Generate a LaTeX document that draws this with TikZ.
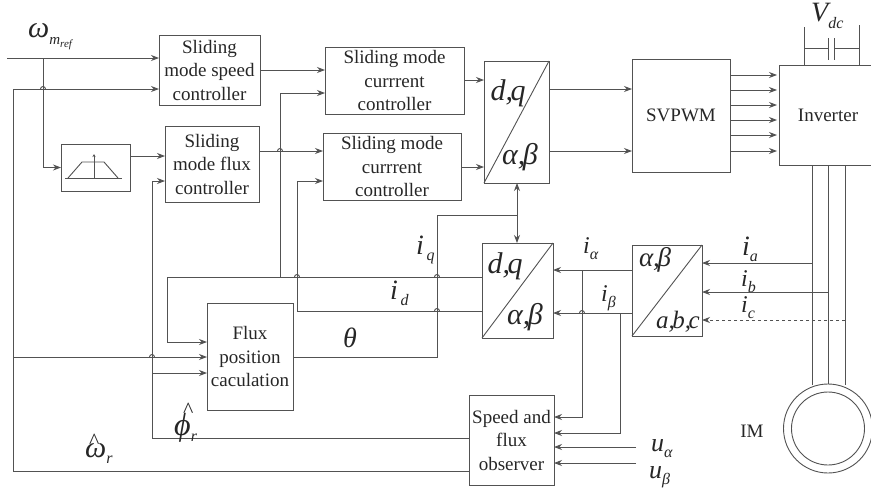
\documentclass[tikz,border=0pt]{standalone}
\usepackage{fontspec}
\setmainfont{Liberation Serif}
\usepackage{xcolor}
\usetikzlibrary{arrows.meta}
\definecolor{wirecol}{gray}{0.32}
\definecolor{inkcol}{gray}{0.15}
\newcommand{\sz}[1]{\fontsize{#1}{#1}\selectfont}
\newcommand{\lab}[3]{{\sz{#1}\itshape #2}\raisebox{-6pt}{\sz{16}\itshape #3}}
\newcommand{\tight}{\kern-2.5pt}
\newcommand{\hatted}[3]{\rlap{\kern#1pt\raisebox{#2pt}{\sz{22}\upshape\textasciicircum}}#3}

\begin{document}
\begin{tikzpicture}[
  x=1pt, y=-1pt,
  box/.style={rectangle, draw=wirecol, line width=0.9pt, outer sep=0pt, inner sep=0pt,
              align=center, text=inkcol,
              font=\fontsize{19}{23.5}\selectfont},
  sym/.style={inner sep=0pt, text=inkcol, font=\sz{30}\itshape},
  lbl/.style={anchor=base west, inner sep=0pt, text=inkcol},
  wire/.style={draw=wirecol, line width=0.9pt},
  arr/.style={wire, -{Stealth[length=8pt,width=6pt]}}]
  \useasboundingbox (0,0) rectangle (871,491);
  % blocks
  \node[box, minimum width=101pt, minimum height=70pt] (speed) at (209.5,70) {Sliding\\mode speed\\controller};
  \node[box, minimum width=94pt, minimum height=76pt] (fluxctrl) at (212,164) {Sliding\\mode flux\\controller};
  \node[box, minimum width=69pt, minimum height=47pt] (ramp) at (95.5,167.5) {};
  \node[box, minimum width=139pt, minimum height=67pt] (curone) at (394.5,80.5) {Sliding mode\\currrent\\controller};
  \node[box, minimum width=138pt, minimum height=67pt] (curtwo) at (392,166.5) {Sliding mode\\currrent\\controller};
  \node[box, minimum width=65pt, minimum height=122pt] (dqtop) at (516.5,122) {};
  \node[box, minimum width=98pt, minimum height=113pt] (svpwm) at (681,115.5) {SVPWM};
  \node[box, minimum width=98pt, minimum height=100pt] (inv) at (828,115) {Inverter};
  \node[box, minimum width=71pt, minimum height=95pt] (dqlow) at (517.5,290.5) {};
  \node[box, minimum width=70pt, minimum height=91pt] (abc) at (667,290.5) {};
  \node[box, minimum width=86pt, minimum height=107pt] (fluxpos) at (250,356.5) {Flux\\position\\caculation};
  \node[box, minimum width=85pt, minimum height=90pt] (obs) at (511.5,440) {Speed and\\flux\\observer};
  \node[box, circle, minimum size=89pt] (imout) at (828,428.5) {};
  \node[box, circle, minimum size=73pt] (imin) at (828,428.5) {};
  \node[inner sep=0pt, text=inkcol, font=\sz{19}] (im) at (752,431) {IM};
  % transform symbols
  \draw[wire] (dqtop.north east) -- (dqtop.south west);
  \draw[wire] (dqlow.north east) -- (dqlow.south west);
  \draw[wire] (abc.north east) -- (abc.south west);
  \node[sym] (dqtopa) at (508,93) {d,\tight q};
  \node[sym] (dqtopb) at (520,157) {α,\tight β};
  \node[sym] (dqlowa) at (505,266) {d,\tight q};
  \node[sym] (dqlowb) at (525,317) {α,\tight β};
  \node[sym, font=\sz{27}\itshape] (abca) at (655,260) {α,\tight β};
  \node[sym, font=\sz{25}\itshape] (abcb) at (678,322) {a,\tight b,\tight c};
  % ramp glyph
  \coordinate (rampl) at (65,178);
  \coordinate (rampr) at (122,178);
  \draw[wire] (rampl) -- (rampr);
  \draw[wire] (68,178) -- (82,162) -- (104,162) -- (118,178);
  \draw[wire, -{Stealth[length=3pt,width=3pt]}] (94,178) -- (94,154);
  % dc link
  \coordinate (dcl) at (804,48);
  \coordinate (dcr) at (859,48);
  \coordinate (capa) at (828,48);
  \coordinate (capb) at (834,48);
  \draw[wire] (dcl |- 0,27) -- (dcl |- inv.north);
  \draw[wire] (dcr |- 0,25) -- (dcr |- inv.north);
  \draw[wire] (dcl) -- (capa) (capb) -- (dcr);
  \draw[wire] (828,38) -- (828,60) (834,38) -- (834,60);
  % machine phases
  \coordinate (pha) at (812,165);
  \coordinate (phb) at (828,165);
  \coordinate (phc) at (845,165);
  \draw[wire] (pha) -- (pha |- 0,385);
  \draw[wire] (phb) -- (imout.north);
  \draw[wire] (phc) -- (phc |- 0,385);
  \coordinate (ia) at (812,263);
  \coordinate (ib) at (828,292);
  \coordinate (ic) at (845,320);
  \draw[arr] (ia) -- (ia -| abc.east);
  \draw[arr] (ib) -- (ib -| abc.east);
  \draw[arr, dashed] (ic) -- (ic -| abc.east);
  % reference path
  \coordinate (refin) at (7,58);
  \coordinate (refdrop) at (43,58);
  \draw[arr] (refin) -- (refin -| speed.west);
  \draw[arr] (refdrop) |- (ramp.west);
  \coordinate (rampout) at (130,156);
  \draw[arr] (rampout) -- (rampout -| fluxctrl.west);
  % controllers
  \draw[arr] (speed.east) -- (speed.east -| curone.west);
  \coordinate (flout) at (259,151);
  \draw[arr] (flout) -- (flout -| curtwo.west);
  \coordinate (cura) at (464,80);
  \coordinate (curb) at (461,167);
  \draw[arr] (cura) -- (cura -| dqtop.west);
  \draw[arr] (curb) -- (curb -| dqtop.west);
  \coordinate (dqa) at (549,89);
  \coordinate (dqb) at (549,151);
  \draw[arr] (dqa) -- (dqa -| svpwm.west);
  \draw[arr] (dqb) -- (dqb -| svpwm.west);
  \foreach \yy in {75,90,105,120,135,151}
    \draw[arr] (730,\yy) -- (777,\yy);
  % feedback currents
  \coordinate (iqr) at (482,277);
  \coordinate (iql) at (167,277);
  \coordinate (iqf) at (167,342);
  \coordinate (iqb) at (280,277);
  \coordinate (iqt) at (280,93);
  \draw[arr] (iqr -| dqlow.west) -- (iql) -- (iqf) -- (iqf -| fluxpos.west);
  \draw[arr] (iqb) -- (iqt) -- (iqt -| curone.west);
  \coordinate (idr) at (482,311);
  \coordinate (idl) at (297,311);
  \coordinate (idt) at (297,181);
  \draw[arr] (idr -| dqlow.west) -- (idl) -- (idt) -- (idt -| curtwo.west);
  % angle
  \coordinate (thb) at (437,357);
  \coordinate (tht) at (437,215);
  \coordinate (thj) at (517,215);
  \draw[wire] (fluxpos.east |- thb) -- (thb) -- (tht) -- (thj);
  \draw[arr] (thj) -- (thj |- dqtop.south);
  \draw[arr] (thj) -- (thj |- dqlow.north);
  % alpha beta currents
  \coordinate (ial) at (632,270);
  \coordinate (ibl) at (632,313);
  \draw[arr] (ial) -- (ial -| dqlow.east);
  \draw[arr] (ibl) -- (ibl -| dqlow.east);
  \coordinate (iaj) at (582,270);
  \coordinate (iao) at (582,417);
  \coordinate (ibj) at (620,313);
  \coordinate (ibo) at (620,433);
  \draw[arr] (iaj) -- (iao) -- (iao -| obs.east);
  \draw[arr] (ibj) -- (ibo) -- (ibo -| obs.east);
  \coordinate (ua) at (636,447);
  \coordinate (ub) at (636,463);
  \draw[arr] (ua) -- (ua -| obs.east);
  \draw[arr] (ub) -- (ub -| obs.east);
  % observer outputs
  \coordinate (omb) at (13,471);
  \coordinate (omt) at (13,89);
  \coordinate (omf) at (13,357);
  \draw[arr] (omb -| obs.west) -- (omb) -- (omt) -- (omt -| speed.west);
  \draw[arr] (omf) -- (omf -| fluxpos.west);
  \coordinate (phibot) at (152,438);
  \coordinate (phitop) at (152,181);
  \coordinate (phif) at (152,373);
  \draw[arr] (phibot -| obs.west) -- (phibot) -- (phitop) -- (phitop -| fluxctrl.west);
  \draw[arr] (phif) -- (phif -| fluxpos.west);
  % line hops
  \foreach \hx/\hy in {43/89,152/357,280/151,297/277,437/277,437/311,582/313}
    \draw[wire] (\hx-2.5,\hy) arc (180:360:2.5);
  % labels
  \node[lbl] (lref) at (28,37) {{\sz{30}\itshape ω}\raisebox{-7pt}{\sz{15}\itshape m\raisebox{-3pt}{\sz{11}ref}}};
  \node[lbl] (lvdc) at (811,21) {{\sz{28}\itshape V}\raisebox{-7pt}{\sz{16}\itshape dc}};
  \node[lbl] (liq) at (416,254) {\lab{28}{i}{\,q}};
  \node[lbl] (lid) at (390,299) {\lab{28}{i}{\,d}};
  \node[lbl] (lth) at (343,347) {{\sz{28}\itshape θ}};
  \node[lbl] (lphi) at (174,435) {\lab{32}{\hatted{9}{18}{ϕ}}{r}};
  \node[lbl] (lom) at (85,457) {\lab{30}{\hatted{4}{9}{ω}}{r}};
  \node[lbl] (lia) at (583,253) {\lab{24}{i}{α}};
  \node[lbl] (lib) at (601,301) {\lab{24}{i}{β}};
  \node[lbl] (lifa) at (742,255) {\lab{28}{i}{a}};
  \node[lbl] (lifb) at (741,286) {\lab{24}{i}{b}};
  \node[lbl] (lifc) at (741,312) {\lab{24}{i}{c}};
  \node[lbl] (lua) at (651,451) {\lab{26}{u}{α}};
  \node[lbl] (lub) at (649,478) {\lab{26}{u}{β}};
\end{tikzpicture}
\end{document}
